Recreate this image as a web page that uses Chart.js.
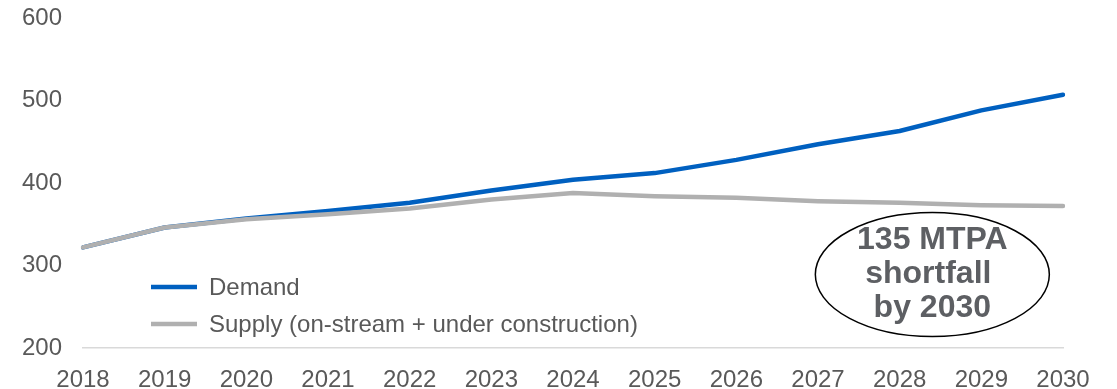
<!DOCTYPE html>
<html>
<head>
<meta charset="utf-8">
<script src="https://cdn.jsdelivr.net/npm/chart.js@4"></script>
<style>
  html, body { margin: 0; padding: 0; background: #fff; }
  #wrap { width: 1117px; height: 389px; position: relative; }
</style>
</head>
<body>
<div id="wrap"><canvas id="lng-chart"></canvas></div>
<script>
const years = ['2018', '2019', '2020', '2021', '2022', '2023', '2024', '2025', '2026', '2027', '2028', '2029', '2030'];
const demand = [322, 346, 357, 366, 376, 391, 404, 412, 428, 447, 463, 488, 507];
const supply = [322, 346, 356, 362, 369, 380, 388, 384, 382, 378, 376, 373, 372];
const yTicks = [200, 300, 400, 500, 600];

const FONT = '"Liberation Sans", Arial, sans-serif';
const TEXT = '#595959';
const BLUE = '#0060c0';
const GREY = '#b0b0b0';

// Legend sits inside the plot, bottom left
const insideLegend = {
  id: 'insideLegend',
  afterDraw(chart) {
    const { ctx } = chart;
    const rows = [chart.data.datasets[0], chart.data.datasets[1]];
    ctx.save();
    ctx.font = '24px ' + FONT;
    ctx.textBaseline = 'middle';
    rows.forEach((ds, i) => {
      const y = 287 + i * 37;
      ctx.strokeStyle = ds.borderColor;
      ctx.lineWidth = 4.5;
      ctx.beginPath();
      ctx.moveTo(151, y);
      ctx.lineTo(197, y);
      ctx.stroke();
      ctx.fillStyle = TEXT;
      ctx.fillText(ds.label, 209, y + 1);
    });
    ctx.restore();
  }
};

// Shortfall callout: ellipse with the 2030 gap
const shortfall = {
  id: 'shortfall',
  afterDraw(chart) {
    const { ctx, scales: { x, y } } = chart;
    const last = years.length - 1;
    const gap = demand[last] - supply[last];
    const cx = x.getPixelForValue(10.4);
    const cy = y.getPixelForValue(289);
    ctx.save();
    ctx.beginPath();
    ctx.ellipse(cx, cy, 117, 62, 0, 0, Math.PI * 2);
    ctx.fillStyle = '#fff';
    ctx.fill();
    ctx.strokeStyle = '#000';
    ctx.lineWidth = 1.5;
    ctx.stroke();
    ctx.fillStyle = '#5d5f63';
    ctx.font = 'bold 32px ' + FONT;
    ctx.textAlign = 'center';
    ctx.textBaseline = 'middle';
    ctx.fillText(gap + ' MTPA', cx, cy - 34);
    ctx.fillText('shortfall', cx - 4, cy);
    ctx.fillText('by 2030', cx, cy + 34);
    ctx.restore();
  }
};

new Chart(document.getElementById('lng-chart'), {
  type: 'line',
  data: {
    labels: years,
    datasets: [
      { label: 'Demand', data: demand, borderColor: BLUE, order: 1 },
      { label: 'Supply (on-stream + under construction)', data: supply, borderColor: GREY, order: 0 },
    ],
  },
  options: {
    responsive: true,
    maintainAspectRatio: false,
    animation: false,
    layout: { padding: { top: 18, right: 54, bottom: 0, left: 0 } },
    elements: {
      line: { borderWidth: 4.5, tension: 0, borderCapStyle: 'round', borderJoinStyle: 'round', fill: false },
      point: { radius: 0, hoverRadius: 0 },
    },
    plugins: {
      legend: { display: false },
      tooltip: { enabled: false },
    },
    scales: {
      x: {
        offset: false,
        grid: { display: false, drawTicks: false },
        border: { display: true, color: '#d9d9d9', width: 1.5 },
        ticks: { color: TEXT, font: { family: FONT, size: 24 }, padding: 18, maxRotation: 0, autoSkip: false },
        afterFit: (s) => { s.height = 41; },
      },
      y: {
        min: 200,
        max: 600,
        afterBuildTicks: (s) => { s.ticks = yTicks.map(v => ({ value: v })); },
        grid: { display: false, drawTicks: false },
        border: { display: false },
        ticks: { color: TEXT, font: { family: FONT, size: 24 }, padding: 21 },
        // fixed gutter; drop the label overhang so the plot starts near the top
        afterFit: (s) => { s.width = 83; s.paddingTop = 0; s.paddingBottom = 0; },
      },
    },
  },
  plugins: [insideLegend, shortfall],
});
</script>
</body>
</html>
